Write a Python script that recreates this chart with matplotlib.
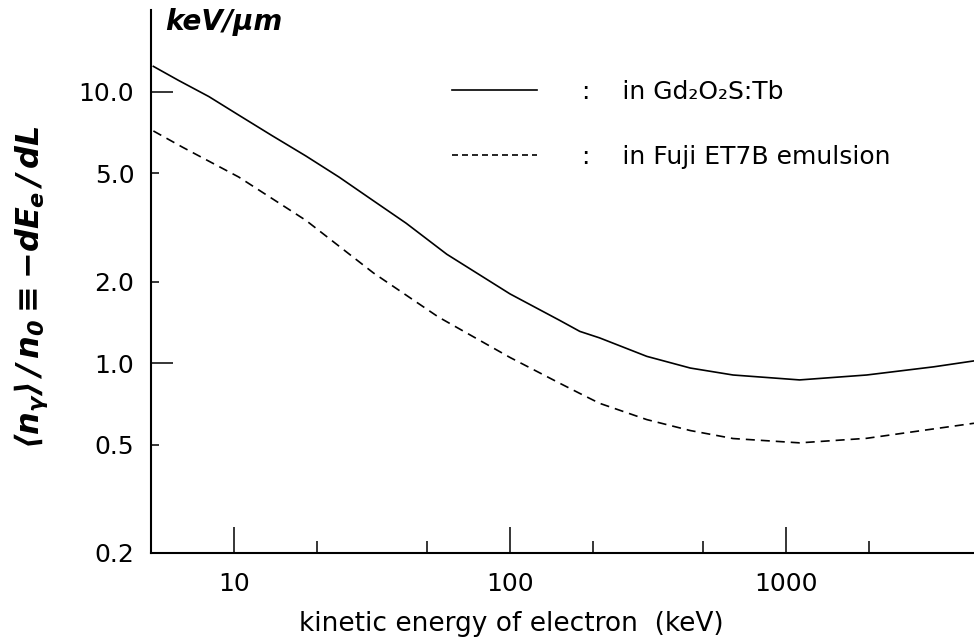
import matplotlib
matplotlib.use("Agg")
import matplotlib.pyplot as plt
from matplotlib.lines import Line2D
from matplotlib.ticker import FixedLocator, FixedFormatter, NullFormatter

# kinetic energy (keV) and <n_gamma>/n0
energy_gd = [5.1, 6.3, 8.1, 10.4, 13.7, 18.2, 24, 31.6, 42, 59, 100, 151, 179, 211, 313, 450, 643, 1120, 1960, 3430, 4800]
yield_gd = [12.4, 11.0, 9.6, 8.2, 6.9, 5.8, 4.85, 4.0, 3.28, 2.52, 1.80, 1.44, 1.31, 1.24, 1.06, 0.96, 0.905, 0.868, 0.905, 0.97, 1.02]

energy_fuji = [5.1, 6.5, 10.4, 18.2, 32, 55, 100, 151, 179, 211, 313, 450, 643, 1120, 1960, 3430, 4800]
yield_fuji = [7.17, 6.25, 4.85, 3.36, 2.15, 1.48, 1.05, 0.845, 0.774, 0.712, 0.62, 0.565, 0.528, 0.509, 0.529, 0.573, 0.601]

label_gd = ":    in Gd\u2082O\u2082S:Tb"
label_fuji = ":    in Fuji ET7B emulsion"

x_major = [10, 100, 1000]
x_minor = [20, 50, 200, 500, 2000]
y_major = [1.0, 10.0]
y_minor = [0.2, 0.5, 2.0, 5.0]

plt.rcParams['lines.scale_dashes'] = False
plt.rcParams['mathtext.fontset'] = 'custom'
plt.rcParams['mathtext.it'] = 'DejaVu Sans:italic:bold'
plt.rcParams['mathtext.rm'] = 'DejaVu Sans:italic:bold'
plt.rcParams['mathtext.bf'] = 'DejaVu Sans:bold'

fig = plt.figure(figsize=(9.74, 6.41), dpi=100)
ax = fig.add_axes([151 / 974, 88 / 641, 823 / 974, 543 / 641])

ax.plot(energy_gd, yield_gd, color='black', lw=1.2)
ax.plot(energy_fuji, yield_fuji, color='black', lw=1.2, ls=(0, (6.5, 4.3)))

ax.set_xscale('log')
ax.set_yscale('log')
ax.set_xlim(5, 4800)
ax.set_ylim(0.2, 20)

for s in ['top', 'right']:
    ax.spines[s].set_visible(False)
for s in ['left', 'bottom']:
    ax.spines[s].set_linewidth(1.5)

ax.xaxis.set_major_locator(FixedLocator(x_major))
ax.xaxis.set_major_formatter(FixedFormatter([str(v) for v in x_major]))
ax.xaxis.set_minor_locator(FixedLocator(x_minor))
ax.xaxis.set_minor_formatter(NullFormatter())

ax.yaxis.set_major_locator(FixedLocator(y_major))
ax.yaxis.set_major_formatter(FixedFormatter([f"{v:.1f}" for v in y_major]))
ax.yaxis.set_minor_locator(FixedLocator(y_minor))
ax.yaxis.set_minor_formatter(FixedFormatter([f"{v:.1f}" for v in y_minor]))

ax.tick_params(axis='x', which='major', direction='in', length=19, width=1.1, labelsize=18, pad=14)
ax.tick_params(axis='x', which='minor', direction='in', length=9, width=1.1)
ax.tick_params(axis='y', which='major', direction='in', length=16, width=1.1, labelsize=18, pad=12)
ax.tick_params(axis='y', which='minor', direction='in', length=6, width=1.1, labelsize=18, pad=12)

ax.set_xlabel("kinetic energy of electron  (keV)", fontsize=19, va='center')
ax.xaxis.set_label_coords((511 - 151) / 823, (553 - 624) / 543)
ax.set_ylabel(r"$\langle n_{\gamma}\rangle\,/\,n_0 \equiv {-}dE_e\,/\,dL$", fontsize=23, va='center')
ax.yaxis.set_label_coords(-0.145, 0.49)

ax.text(0.017, (553 - 22) / 543, "keV/\u03bcm", transform=ax.transAxes, fontsize=20,
        fontstyle='italic', fontweight='bold', ha='left', va='center')

handles = [Line2D([], [], color='black', lw=1.2),
           Line2D([], [], color='black', lw=1.2, ls=(0, (4.3, 2.9)))]
ax.legend(handles, [label_gd, label_fuji], loc='upper left',
          bbox_to_anchor=((452 - 151) / 823, (553 - 80) / 543),
          frameon=False, fontsize=18, borderpad=0, borderaxespad=0,
          handlelength=3.4, handletextpad=1.8, labelspacing=1.63)

fig.savefig("out.png", dpi=100)
